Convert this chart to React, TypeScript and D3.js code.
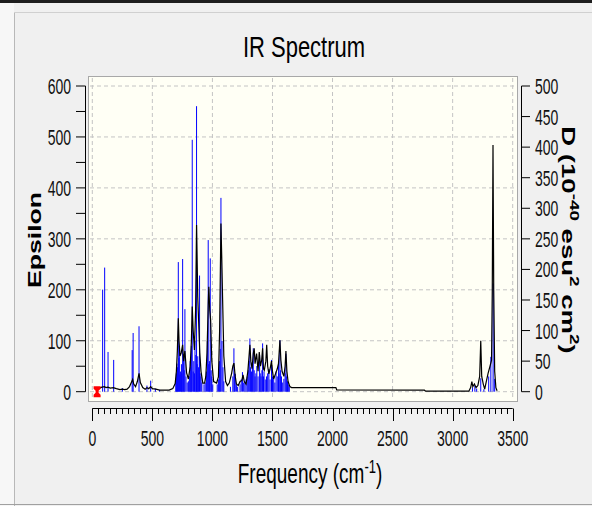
import React from "react";
import * as d3 from "d3";

// ---- data ----
const stickFreq = [
  86, 103, 131, 178, 250, 332, 340, 389, 455, 486, 525, 560,
  695, 700, 705, 710, 716, 720, 725, 730, 735, 742, 746, 752, 760, 765, 771, 780, 790, 800, 808, 815, 820, 825, 832, 840, 845, 850, 855, 862, 868, 873, 878, 885, 893, 898, 905, 912, 930, 940, 950, 958, 965, 970, 975, 982, 990, 995, 1003,
  1040, 1050, 1060, 1065, 1071, 1080, 1088, 1095, 1150, 1170, 1179, 1185, 1190, 1200, 1210, 1230, 1240, 1250, 1260, 1270, 1280, 1290, 1298, 1305, 1312, 1318, 1325, 1333, 1340, 1348, 1355, 1362, 1370, 1380, 1393, 1398,
  1405, 1412, 1418, 1425, 1430, 1440, 1450, 1460, 1470, 1480, 1492, 1500, 1510, 1520, 1530, 1540, 1550, 1555, 1562, 1568, 1575, 1585, 1595, 1605, 1612, 1618, 1625, 1632, 1640,
  3165, 3185, 3200, 3234, 3260, 3300, 3318, 3337, 3350,
];
const stickD = [
  167, 203, 65, 52, 6, 68, 96, 107, 10, 18, 5, 3,
  21, 30, 46, 40, 212, 55, 75, 28, 33, 45, 30, 217, 58, 35, 135, 25, 15, 17, 25, 50, 40, 75, 412, 33, 50, 30, 83, 60, 467, 45, 58, 40, 190, 30, 25, 15, 12, 15, 33, 83, 248, 45, 50, 218, 35, 25, 12,
  12, 20, 50, 70, 317, 83, 40, 17, 8, 25, 71, 30, 29, 12, 8, 12, 20, 32, 15, 17, 20, 25, 35, 50, 87, 40, 33, 45, 71, 35, 25, 30, 42, 25, 60, 30,
  25, 35, 79, 25, 33, 20, 25, 30, 37, 20, 52, 25, 21, 15, 33, 25, 46, 30, 84, 35, 25, 15, 21, 30, 62, 25, 17, 12, 8,
  7, 10, 5, 22, 4, 25, 57, 177, 21,
];

const curveFreq = [
  40, 60, 80, 100, 115, 130, 150, 175, 200, 230, 250, 270, 290, 310, 325, 336, 345, 360, 375, 389, 400, 420, 440, 455, 470, 486, 500, 530, 560, 600, 640, 670,
  690, 700, 708, 716, 722, 730, 740, 752, 760, 771, 785, 800, 815, 825, 832, 840, 850, 860, 868, 878, 885, 895, 905, 920, 935, 945, 955, 965, 970, 978, 985, 995,
  1010, 1035, 1050, 1060, 1071, 1078, 1085, 1095, 1110, 1125, 1140, 1160, 1170, 1179, 1190, 1200, 1215, 1230, 1245, 1255, 1265, 1280, 1295, 1305, 1312, 1320,
  1330, 1340, 1348, 1355, 1368, 1380, 1390, 1400, 1410, 1418, 1425, 1432, 1445, 1452, 1460, 1470, 1480, 1492, 1500, 1510, 1525, 1540, 1550, 1562, 1570, 1580,
  1595, 1605, 1612, 1620, 1630, 1645, 1659, 2028, 2035, 2765, 2775, 3135,
  3150, 3160, 3168, 3181, 3195, 3210, 3225, 3234, 3242, 3255, 3267, 3280, 3295, 3310, 3324, 3330, 3336, 3342, 3350, 3360, 3370,
];
const curveEps = [
  5, 7, 9, 10, 8, 9, 7, 8, 6, 4, 5, 4, 5, 10, 18, 24, 15, 10, 20, 36, 18, 8, 5, 8, 6, 10, 6, 5, 3, 3, 3, 6,
  16, 40, 80, 144, 100, 70, 76, 92, 60, 80, 37, 25, 50, 100, 167, 120, 82, 160, 327, 186, 140, 76, 40, 17, 17, 30, 76, 170, 206, 160, 141, 60,
  20, 17, 29, 120, 330, 260, 180, 70, 20, 12, 17, 36, 50, 56, 30, 15, 12, 20, 22, 33, 20, 15, 40, 70, 92, 60,
  45, 75, 85, 55, 75, 40, 78, 50, 62, 85, 45, 42, 60, 92, 50, 35, 45, 60, 40, 25, 35, 45, 55, 101, 62, 40,
  30, 50, 80, 40, 20, 10, 8, 8, 3.5, 3, 1, 1,
  8, 20, 10, 15, 8, 12, 30, 100, 30, 15, 5, 20, 36, 49, 62, 200, 484, 200, 40, 8, 2,
];

const xTicks = [0, 500, 1000, 1500, 2000, 2500, 3000, 3500];
const epsTicks = [0, 100, 200, 300, 400, 500, 600];
const dTicks = [0, 50, 100, 150, 200, 250, 300, 350, 400, 450, 500];

const FONT = "'Liberation Sans', Arial, sans-serif";

export default function App() {
  const x = d3.scaleLinear().domain([0, 3500]).range([92.3, 512.7]);
  const yE = d3.scaleLinear().domain([0, 600]).range([391.7, 86]);
  const yD = d3.scaleLinear().domain([0, 500]).range([391.7, 86]);

  const curve = d3
    .line<number>()
    .x((_, i) => x(curveFreq[i]))
    .y((d) => yE(d))(curveEps);

  const minorX = d3.range(0, 3501, 50);
  const minorE = d3.range(0, 601, 50);
  const sy = 1.6;

  const markX = x(40);
  const markY = yE(0);

  return (
    <svg
      width={592}
      height={506}
      style={{ position: "absolute", left: 0, top: 0 }}
      fontFamily={FONT}
    >
      <rect x={0} y={0} width={592} height={506} fill="#f0f0f0" />
      <rect x={0} y={0} width={592} height={3} fill="#1e1e1e" />
      <rect x={0} y={3} width={14} height={503} fill="#f7f7f7" />
      <line x1={14.5} x2={14.5} y1={12} y2={506} stroke="#b8b8b8" />
      <line x1={14} x2={592} y1={12.5} y2={12.5} stroke="#d0d0d0" />
      <line x1={0} x2={592} y1={504.5} y2={504.5} stroke="#a0a0a0" />

      {/* title */}
      <text
        transform={`translate(304,57) scale(1,1.35)`}
        textAnchor="middle"
        fontSize={22}
        fill="#000"
      >
        IR Spectrum
      </text>

      {/* plot box */}
      <rect x={88.5} y={76.5} width={429} height={325} fill="#fffff5" stroke="#a8a8a8" />

      {/* grid */}
      {xTicks.map((t) => (
        <line
          key={"gx" + t}
          x1={x(t)}
          x2={x(t)}
          y1={78}
          y2={400}
          stroke="#c4c4c4"
          strokeDasharray="4,3"
        />
      ))}
      {epsTicks.map((t) => (
        <line
          key={"gy" + t}
          x1={90}
          x2={516}
          y1={yE(t)}
          y2={yE(t)}
          stroke="#c4c4c4"
          strokeDasharray="4,3"
        />
      ))}

      {/* sticks */}
      {stickFreq.map((f, i) => (
        <line
          key={"s" + i}
          x1={x(f)}
          x2={x(f)}
          y1={yD(0)}
          y2={yD(stickD[i])}
          stroke="#0000ff"
          strokeWidth={1}
        />
      ))}

      {/* broadened curve */}
      <path d={curve || ""} fill="none" stroke="#000" strokeWidth={1.2} />

      {/* red marker */}
      <path
        transform={`translate(${markX},${markY})`}
        d="M-3.5,-5.5 H3.5 V-3 L1.5,-1 V1 L3.5,3 V5.5 H-3.5 V3 L-1.5,1 V-1 L-3.5,-3 Z"
        fill="#ff0000"
      />

      {/* left axis */}
      <line x1={85.5} x2={85.5} y1={yE(600)} y2={yE(0)} stroke="#000" />
      {minorE.map((t) => (
        <line key={"le" + t} x1={76} x2={85.5} y1={yE(t)} y2={yE(t)} stroke="#000" />
      ))}
      {epsTicks.map((t) => (
        <text
          key={"lt" + t}
          transform={`translate(71,${yE(t) + 8}) scale(1,${sy})`}
          textAnchor="end"
          fontSize={14}
          fill="#111"
        >
          {t}
        </text>
      ))}

      {/* right axis */}
      <line x1={521.5} x2={521.5} y1={yD(500)} y2={yD(0)} stroke="#000" />
      {dTicks.map((t) => (
        <g key={"rd" + t}>
          <line x1={521.5} x2={530} y1={yD(t)} y2={yD(t)} stroke="#000" />
          <text
            transform={`translate(535,${yD(t) + 8}) scale(1,${sy})`}
            fontSize={14}
            fill="#111"
          >
            {t}
          </text>
        </g>
      ))}

      {/* bottom axis */}
      <line x1={x(0)} x2={x(3500)} y1={408.5} y2={408.5} stroke="#000" />
      {minorX.map((t) => (
        <line
          key={"mx" + t}
          x1={Math.round(x(t)) + 0.5}
          x2={Math.round(x(t)) + 0.5}
          y1={408.5}
          y2={t % 500 === 0 ? 421 : 414}
          stroke="#000"
        />
      ))}
      {xTicks.map((t) => (
        <text
          key={"xt" + t}
          transform={`translate(${x(t)},446) scale(1,${sy})`}
          textAnchor="middle"
          fontSize={14}
          fill="#111"
        >
          {t}
        </text>
      ))}

      {/* axis titles */}
      <text
        transform={`translate(310,483) scale(1,1.45)`}
        textAnchor="middle"
        fontSize={19}
        fill="#000"
      >
        Frequency (cm
        <tspan fontSize={13} dy={-7}>-1</tspan>
        <tspan dy={7}>)</tspan>
      </text>

      <text
        transform={`translate(41,240) rotate(-90) scale(1.4,1)`}
        textAnchor="middle"
        fontSize={19}
        fontWeight="bold"
        fill="#000"
      >
        Epsilon
      </text>

      <text
        transform={`translate(562,240) rotate(90) scale(1.45,1)`}
        textAnchor="middle"
        fontSize={19}
        fontWeight="bold"
        fill="#000"
      >
        D (10
        <tspan fontSize={13} dy={-8}>-40</tspan>
        <tspan dy={8}> esu</tspan>
        <tspan fontSize={13} dy={-8}>2</tspan>
        <tspan dy={8}> cm</tspan>
        <tspan fontSize={13} dy={-8}>2</tspan>
        <tspan dy={8}>)</tspan>
      </text>
    </svg>
  );
}
